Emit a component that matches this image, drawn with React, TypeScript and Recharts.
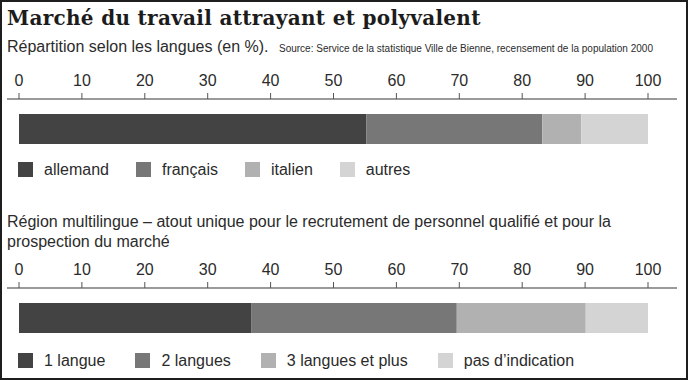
import { Bar, BarChart, XAxis, YAxis } from "recharts"

const ticks = [0, 10, 20, 30, 40, 50, 60, 70, 80, 90, 100]

const languages = ["allemand", "français", "italien", "autres"]
const languageShares = [55.2, 28.0, 6.2, 10.6]

const multiLabels = ["1 langue", "2 langues", "3 langues et plus", "pas d’indication"]
const multiShares = [36.9, 32.7, 20.5, 9.9]

const shades = ["#434343", "#777777", "#b1b1b1", "#d4d4d4"]

const sans = "'Liberation Sans', Arial, sans-serif"
const ink = "#2b2b2b"

function StackedRow({ labels, values, top }: { labels: string[]; values: number[]; top: number }) {
  const row: Record<string, string | number> = { name: "" }
  labels.forEach((l, i) => (row[l] = values[i]))

  return (
    <div style={{ position: "absolute", left: 0, top }}>
      <BarChart
        width={688}
        height={160}
        data={[row]}
        layout="vertical"
        margin={{ top: 69, right: 11, bottom: 1, left: 7 }}
      >
        <XAxis
          type="number"
          orientation="top"
          domain={[0, 100]}
          ticks={ticks}
          height={30}
          padding={{ left: 12, right: 29 }}
          axisLine={{ stroke: "#9a9a9a", strokeWidth: 2 }}
          tickLine={{ stroke: "#555" }}
          tickSize={6}
          tickMargin={7}
          tick={{ fill: ink, fontSize: 16, fontFamily: sans }}
        />
        <YAxis type="category" dataKey="name" hide />
        {labels.map((l, i) => (
          <Bar key={l} dataKey={l} stackId="s" fill={shades[i]} barSize={30} isAnimationActive={false} />
        ))}
      </BarChart>
    </div>
  )
}

function Legend({ labels, top, gap }: { labels: string[]; top: number; gap: number }) {
  return (
    <div
      style={{
        position: "absolute",
        left: 18,
        top,
        display: "flex",
        gap,
        fontFamily: sans,
        fontSize: 16,
        lineHeight: "15px",
        color: ink,
      }}
    >
      {labels.map((l, i) => (
        <div key={l} style={{ display: "flex", alignItems: "flex-start", gap: 11 }}>
          <div style={{ width: 15, height: 15, background: shades[i] }} />
          <span style={{ whiteSpace: "nowrap" }}>{l}</span>
        </div>
      ))}
    </div>
  )
}

export default function App() {
  return (
    <div
      style={{
        position: "absolute",
        left: 0,
        top: 0,
        width: 688,
        height: 380,
        background: "#fff",
        overflow: "hidden",
      }}
    >
      <svg width={688} height={380} style={{ position: "absolute", left: 0, top: 0 }}>
        <text
          x={7}
          y={25}
          fontFamily="'DejaVu Serif', serif"
          fontWeight="bold"
          fontSize={20}
          letterSpacing={0.3}
          fill="#1c1c1c"
        >
          Marché du travail attrayant et polyvalent
        </text>
        <text x={7} y={52} fontFamily={sans} fontSize={16} fill={ink}>
          Répartition selon les langues (en %).
        </text>
        <text x={279} y={52} fontFamily={sans} fontSize={10} fill={ink}>
          Source: Service de la statistique Ville de Bienne, recensement de la population 2000
        </text>
        <text x={7} y={227} fontFamily={sans} fontSize={16} fill={ink}>
          Région multilingue – atout unique pour le recrutement de personnel qualifié et pour la
        </text>
        <text x={7} y={247} fontFamily={sans} fontSize={16} fill={ink}>
          prospection du marché
        </text>
      </svg>

      <StackedRow labels={languages} values={languageShares} top={0} />
      <Legend labels={languages} top={162} gap={27} />

      <StackedRow labels={multiLabels} values={multiShares} top={189} />
      <Legend labels={multiLabels} top={353} gap={30} />

      <div
        style={{
          position: "absolute",
          inset: 0,
          border: "2px solid #1e1e1e",
          pointerEvents: "none",
        }}
      />
    </div>
  )
}
